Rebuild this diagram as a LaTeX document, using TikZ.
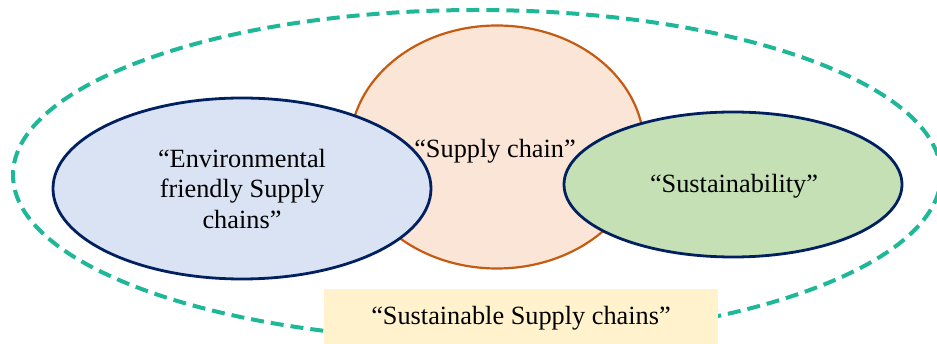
\documentclass[tikz,border=0pt]{standalone}
\usepackage{fontspec}
\setmainfont{Liberation Serif}
\usetikzlibrary{shapes.geometric}
\definecolor{teal1}{RGB}{30,184,152}
\definecolor{navy1}{RGB}{0,32,96}
\definecolor{orng}{RGB}{197,90,17}
\definecolor{peach}{RGB}{251,229,214}
\definecolor{lblue}{RGB}{218,227,243}
\definecolor{lgreen}{RGB}{197,224,180}
\definecolor{lyel}{RGB}{255,242,204}
\tikzset{
  ell/.style={ellipse, inner sep=0pt, line width=2.8pt},
  lbl/.style={font=\fontsize{26.3}{30.5}\selectfont, align=center, inner sep=0pt},
}
\begin{document}
\begin{tikzpicture}[x=1pt,y=-1pt]
\useasboundingbox (0,0) rectangle (937,344);
\node[ell, draw=teal1, dash pattern=on 13pt off 7pt, line width=4pt, minimum width=928pt, minimum height=330pt] (outer) at (477,175) {};
\node[ell, draw=orng, fill=peach, line width=2.2pt, minimum width=294pt, minimum height=243pt] (sc) at (497,147) {};
\node[ell, draw=navy1, fill=lblue, minimum width=378pt, minimum height=181pt] (env) at (242,188.5) {};
\node[ell, draw=navy1, fill=lgreen, minimum width=338pt, minimum height=145pt] (sus) at (733,184.5) {};
\node[fill=lyel, minimum width=394pt, minimum height=56pt, inner sep=0pt] (box) at (521,317) {};
\node[lbl] (envt) at (242,189) {“Environmental\\friendly Supply\\chains”};
\node[lbl] (sct) at (495,151) {“Supply chain”};
\node[lbl] (sust) at (734,186) {“Sustainability”};
\node[lbl] (boxt) at (521,318) {“Sustainable Supply chains”};
\end{tikzpicture}
\end{document}
